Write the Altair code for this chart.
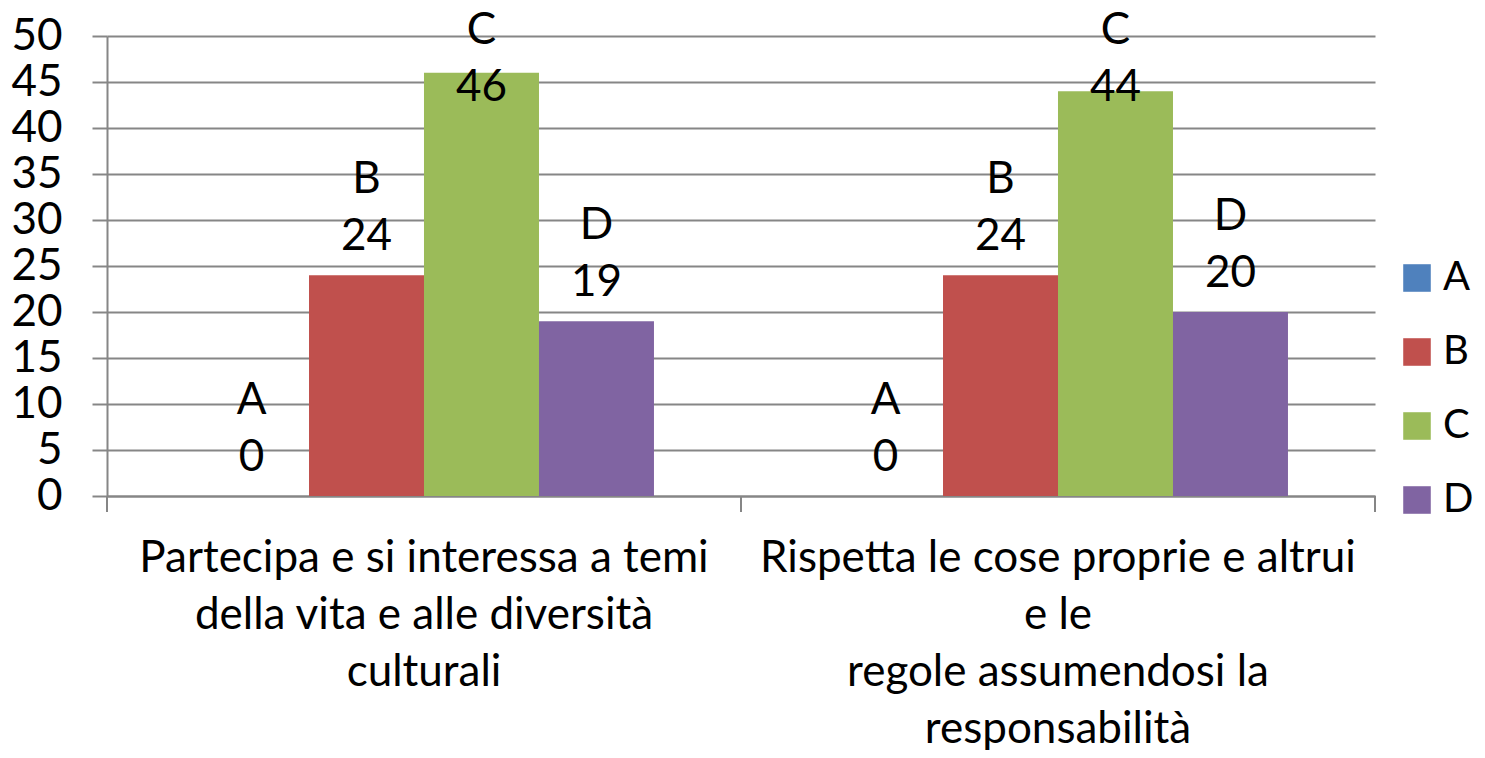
import altair as alt
import pandas as pd

series = ["A", "B", "C", "D"]
colors = ["#4F81BD", "#C0504D", "#9BBB59", "#8064A2"]
cat1_lines = ["Partecipa e si interessa a temi", "della vita e alle diversità", "culturali"]
cat2_lines = ["Rispetta le cose proprie e altrui", "e le", "regole assumendosi la", "responsabilità"]
values1 = [0, 24, 46, 19]
values2 = [0, 24, 44, 20]
y_ticks = [0, 5, 10, 15, 20, 25, 30, 35, 40, 45, 50]

categories = ["|".join(cat1_lines), "|".join(cat2_lines)]
rows = []
for cat, vals in zip(categories, [values1, values2]):
    for s, v in zip(series, vals):
        rows.append({"cat": cat, "series": s, "value": v})
df = pd.DataFrame(rows)
cat_df = pd.DataFrame({"cat": categories})

FONT = "Lato"
FS = 44
GRID = "#868686"

xscale = alt.Scale(paddingInner=0, paddingOuter=0)
x_enc = alt.X(
    "cat:N", sort=categories, scale=xscale,
    axis=alt.Axis(
        title=None, labelExpr="split(datum.label, '|')", labelAngle=0,
        ticks=False, domain=True, domainColor=GRID, domainWidth=2,
        labelLimit=0, labelOverlap=False, labelPadding=40,
        labelLineHeight=57, labelBaseline="top",
    ),
)
xoff = alt.XOffset("series:N", sort=series, scale=alt.Scale(paddingOuter=0.757, paddingInner=0))
y_scale = alt.Scale(domain=[0, 50], nice=False)

bars = alt.Chart(df).mark_bar(size=115).encode(
    x=x_enc,
    xOffset=xoff,
    y=alt.Y("value:Q", scale=y_scale,
            axis=alt.Axis(title=None, values=y_ticks, tickSize=15, tickColor=GRID, tickWidth=2,
                          gridColor=GRID, gridWidth=2, domainColor=GRID, domainWidth=2,
                          labelPadding=30)),
    color=alt.Color("series:N", sort=series,
                    scale=alt.Scale(domain=series, range=colors),
                    legend=alt.Legend(title=None, orient="none", legendX=1290, legendY=222,
                                      symbolType="square", symbolSize=760, symbolStrokeWidth=0,
                                      labelFontSize=40, labelFont=FONT, labelColor="black",
                                      rowPadding=34, labelOffset=6)),
)

tick0 = alt.Chart(cat_df).mark_rule(color=GRID, strokeWidth=2).encode(
    x=alt.X("cat:N", sort=categories, bandPosition=0),
    y=alt.value(460), y2=alt.value(476),
)
tick1 = alt.Chart(cat_df).mark_rule(color=GRID, strokeWidth=2).encode(
    x=alt.X("cat:N", sort=categories, bandPosition=1),
    y=alt.value(460), y2=alt.value(476),
)

base_text = alt.Chart(df).transform_calculate(ly="min(datum.value, 40.2)")
val_text = base_text.mark_text(dy=-38, baseline="middle", align="center",
                               font=FONT, fontSize=FS, color="black").encode(
    x=alt.X("cat:N", sort=categories), xOffset=xoff,
    y=alt.Y("ly:Q", scale=y_scale), text="value:Q",
)
ser_text = base_text.mark_text(dy=-95, baseline="middle", align="center",
                               font=FONT, fontSize=FS, color="black").encode(
    x=alt.X("cat:N", sort=categories), xOffset=xoff,
    y=alt.Y("ly:Q", scale=y_scale), text="series:N",
)

chart = alt.layer(bars, tick0, tick1, val_text, ser_text).properties(
    width=1268, height=460,
    autosize=alt.AutoSizeParams(type="none"),
    padding={"left": 99, "top": 28, "right": 101, "bottom": 254},
).configure_view(stroke=None).configure_axis(
    labelFont=FONT, labelFontSize=FS, labelColor="black",
)

chart.save("out.html", embed_options={"renderer": "svg", "actions": False})
